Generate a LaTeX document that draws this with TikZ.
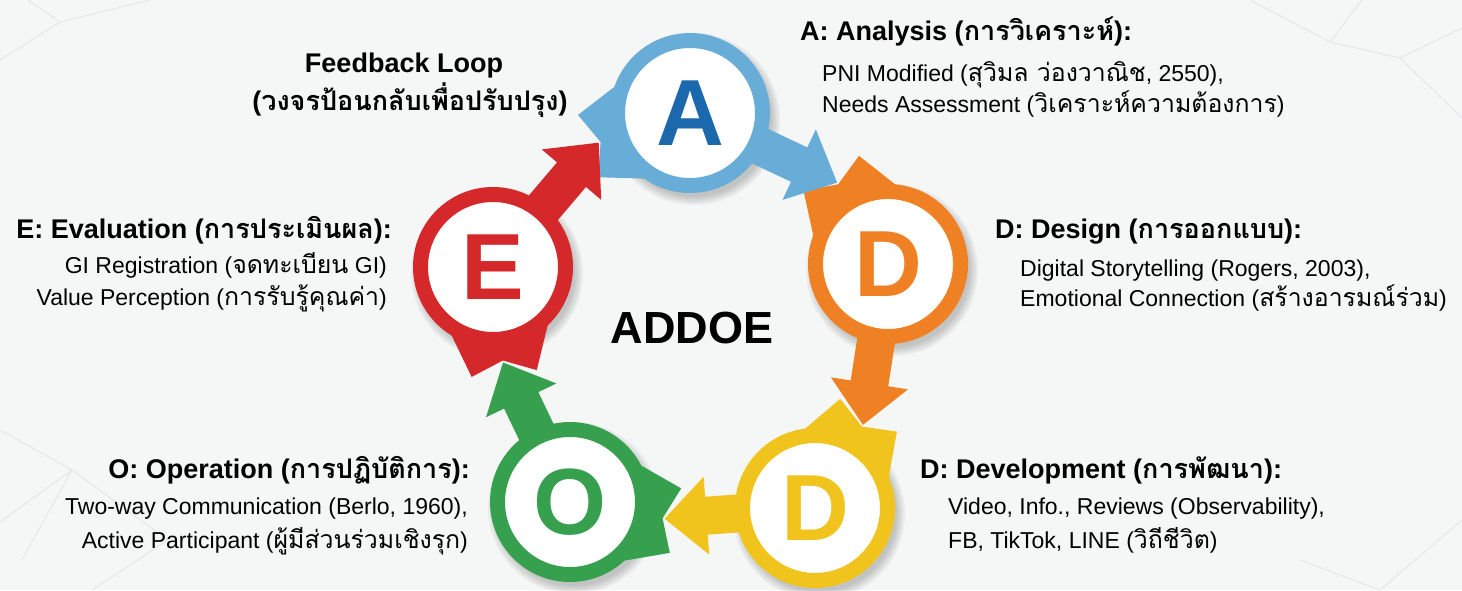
\documentclass[tikz,border=0pt]{standalone}
\usepackage{fontspec}
\setmainfont{Liberation Sans}
\newfontfamily\thaifont[Script=Thai,Scale=1.08]{Loma}
\newfontfamily\thaihead[Script=Thai,Scale=1.0]{Loma}
\newcommand\thai[1]{{\thaifont #1}}
\usetikzlibrary{calc,positioning}
\definecolor{stepblue}{RGB}{104,172,216}
\definecolor{letterblue}{RGB}{28,104,172}
\definecolor{steporange}{RGB}{240,128,36}
\definecolor{stepyellow}{RGB}{240,196,28}
\definecolor{stepgreen}{RGB}{54,160,78}
\definecolor{stepred}{RGB}{212,40,42}
\definecolor{paper}{RGB}{245,246,246}
\definecolor{netgray}{RGB}{224,228,230}

\pgfdeclarelayer{paperlayer}
\pgfdeclarelayer{flow}
\pgfsetlayers{paperlayer,flow,main}

% arrow of the cycle: shaft from node #1 to tip #2
\newcommand\cyclearrow[3]{%
  \coordinate (hb) at ($(#2)!42pt!(#1.center)$);
  \fill[#3] ($(#1.center)!19pt!90:(#2)$) -- ($(hb)!19pt!-90:(#1.center)$)
    -- ($(hb)!39pt!-90:(#1.center)$) -- (#2) -- ($(hb)!39pt!90:(#1.center)$)
    -- ($(hb)!19pt!90:(#1.center)$) -- ($(#1.center)!19pt!-90:(#2)$) -- cycle;
}
% notched flare where the incoming arrow meets a ring
\newcommand\inflare[3]{%
  \fill[#3] ($(#1.center)+({#2-42}:76)$) -- ($(#1.center)+({#2-17}:112)$)
    -- ($(#1.center)+(#2:94)$) -- ($(#1.center)+({#2+17}:112)$)
    -- ($(#1.center)+({#2+42}:76)$) -- cycle;
}
% soft shadow under a ring
\newcommand\ringshadow[1]{%
  \foreach \r in {86,84,82,80,78}
    \fill[black, opacity=0.045] ($(#1.center)+(4,6)$) circle[radius=\r];
}

\begin{document}
\begin{tikzpicture}[
  x=1pt, y=-1pt,
  ring/.style 2 args={
    circle, draw=#1, text=#2, fill=white,
    line width=15pt, minimum size=145pt, inner sep=0pt,
    font=\fontsize{94}{94}\selectfont\bfseries
  },
  head/.style={font=\fontsize{27}{31}\selectfont\bfseries\let\thaifont\thaihead,
               inner sep=0pt},
  body/.style={font=\fontsize{23}{27}\selectfont, inner sep=0pt},
  net/.style={draw=netgray, line width=0.8pt}
]

\useasboundingbox (0,0) rectangle (1462,590);
\begin{pgfonlayer}{paperlayer}
  \fill[paper] (0,0) rectangle (1462,590);
  % faint network in the corners
  \draw[net] (0,60) -- (60,22) -- (150,0) (60,22) -- (28,0);
  \draw[net] (1250,0) -- (1330,42) -- (1400,58) -- (1462,28)
             (1400,58) -- (1462,118) (1330,42) -- (1362,0);
  \draw[net] (0,430) -- (72,470) -- (22,560) (72,470) -- (0,522)
             (72,470) -- (168,540) -- (92,590);
  \draw[net] (1380,590) -- (1462,520) (1300,560) -- (1380,590);
\end{pgfonlayer}

% the five steps
\node[ring={stepblue}{letterblue}]     (ana) at (690,113) {A};
\node[ring={steporange}{steporange}]   (dsg) at (888,264) {D};
\node[ring={stepyellow}{stepyellow}]   (dev) at (815,508) {D};
\node[ring={stepgreen}{stepgreen}]     (opr) at (570,502) {O};
\node[ring={stepred}{stepred}]         (evl) at (493,267) {E};

\node[font=\fontsize{45}{45}\selectfont\bfseries] (addoe) at (692,328) {ADDOE};

% where each arrow enters the next ring
\coordinate (inDsg) at ($(dsg.center)+(-122:96)$);
\coordinate (inDev) at ($(dev.center)+(-60:96)$);
\coordinate (inOpr) at ($(opr.center)+(10:96)$);
\coordinate (inEvl) at ($(evl.center)+(84:96)$);
\coordinate (inAna) at ($(ana.center)+(162:96)$);

\begin{pgfonlayer}{flow}
  \foreach \n in {ana,dsg,dev,opr,evl} { \ringshadow{\n} }
  \inflare{dsg}{-122}{steporange}
  \inflare{dev}{-60}{stepyellow}
  \inflare{opr}{10}{stepgreen}
  \inflare{evl}{84}{stepred}
  \inflare{ana}{162}{stepblue}
  \cyclearrow{ana}{inDsg}{stepblue}
  \cyclearrow{dsg}{inDev}{steporange}
  \cyclearrow{dev}{inOpr}{stepyellow}
  \cyclearrow{opr}{inEvl}{stepgreen}
  \cyclearrow{evl}{inAna}{stepred}
\end{pgfonlayer}

% labels
\node[head, anchor=base] (fbTop) at (404,72) {Feedback Loop};
\node[head, anchor=base] (fbSub) at (410,110) {(\thai{วงจรป้อนกลับเพื่อปรับปรุง})};

\node[head, anchor=base west] (anaHead) at (800,40) {A: Analysis (\thai{การวิเคราะห์}):};
\node[body, anchor=base west] (anaOne) at (822,81) {PNI Modified (\thai{สุวิมล ว่องวาณิช}, 2550),};
\node[body, anchor=base west] (anaTwo) at (822,112) {Needs Assessment (\thai{วิเคราะห์ความต้องการ})};

\node[head, anchor=base west] (dsgHead) at (995,238) {D: Design (\thai{การออกแบบ}):};
\node[body, anchor=base west] (dsgOne) at (1020,276) {Digital Storytelling (Rogers, 2003),};
\node[body, anchor=base west] (dsgTwo) at (1020,306) {Emotional Connection (\thai{สร้างอารมณ์ร่วม})};

\node[head, anchor=base west] (devHead) at (920,478) {D: Development (\thai{การพัฒนา}):};
\node[body, anchor=base west] (devOne) at (948,514) {Video, Info., Reviews (Observability),};
\node[body, anchor=base west] (devTwo) at (948,548) {FB, TikTok, LINE (\thai{วิถีชีวิต})};

\node[head, anchor=base east] (oprHead) at (470,478) {O: Operation (\thai{การปฏิบัติการ}):};
\node[body, anchor=base east] (oprOne) at (468,514) {Two-way Communication (Berlo, 1960),};
\node[body, anchor=base east] (oprTwo) at (468,548) {Active Participant (\thai{ผู้มีส่วนร่วมเชิงรุก})};

\node[head, anchor=base east] (evlHead) at (392,238) {E: Evaluation (\thai{การประเมินผล}):};
\node[body, anchor=base east] (evlOne) at (387,273) {GI Registration (\thai{จดทะเบียน} GI)};
\node[body, anchor=base east] (evlTwo) at (387,305) {Value Perception (\thai{การรับรู้คุณค่า})};

\end{tikzpicture}
\end{document}
